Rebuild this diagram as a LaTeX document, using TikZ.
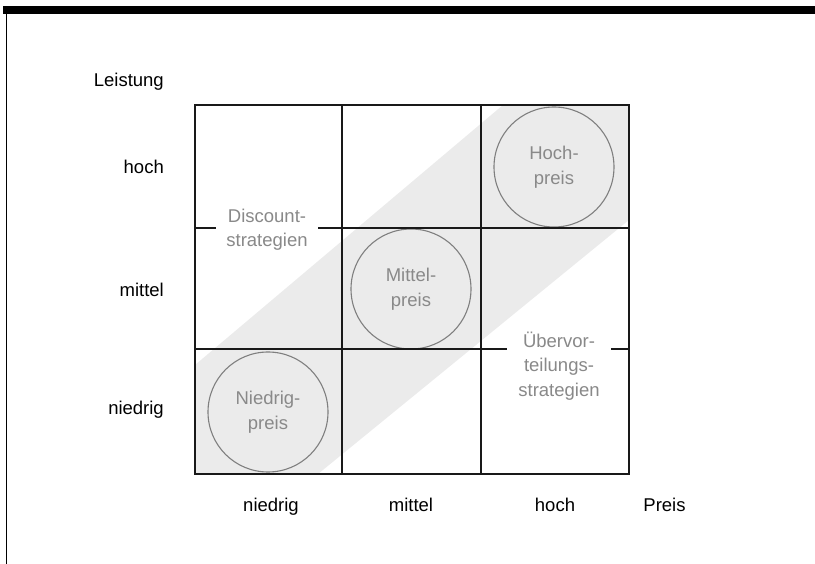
\documentclass[tikz,border=0pt]{standalone}
\usepackage{fontspec}
\setmainfont{Liberation Sans}
\definecolor{bandgray}{HTML}{EBEBEB}
\definecolor{ringgray}{HTML}{7F7F7F}
\definecolor{textgray}{HTML}{898989}
\begin{document}
\begin{tikzpicture}[x=1pt,y=-1pt,
  txt/.style={font=\fontsize{18.5}{24.5}\selectfont, inner sep=0pt},
  axis/.style={txt, text=black},
  cell/.style={line width=1.1pt, draw=black!90},
  price/.style={txt, circle, draw=ringgray, line width=1.1pt, fill=bandgray,
    minimum size=120pt, align=center, text=textgray},
  strat/.style={txt, fill=white, align=center, text=textgray, inner ysep=2pt}]
\useasboundingbox (0,0) rectangle (815,564);

% frame: heavy top rule and thin left rule
\fill[black] (3,6.5) rectangle (815,14.5);
\draw[line width=1.6pt] (6.5,14) -- (6.5,564);

% diagonal band of consistent price/performance strategies
\fill[bandgray] (195,365) -- (503,105) -- (629,105) -- (629,220)
  -- (318,474) -- (195,474) -- cycle;

% price positions
\node[price] (low)  at (268,412) {Niedrig-\\preis};
\node[price] (mid)  at (411,289) {Mittel-\\preis};
\node[price] (high) at (554,167) {Hoch-\\preis};

% 3x3 matrix
\coordinate (tl) at (195,105);
\coordinate (br) at (629,474);
\draw[cell] (tl) rectangle (br);
\draw[cell] (342,105) -- (342,474);
\draw[cell] (481,105) -- (481,474);
\draw[cell] (195,228) -- (629,228);
\draw[cell] (195,349) -- (629,349);

% off-diagonal strategy labels
\node[strat, minimum width=102pt] (disc) at (267,229.5) {Discount-\\strategien};
\node[strat, minimum width=104pt] (over) at (559,366) {Übervor-\\teilungs-\\strategien};

% axis labels
\node[axis, anchor=base east] (perf) at (164,87)  {Leistung};
\node[axis, anchor=base east] (phi)  at (164,174) {hoch};
\node[axis, anchor=base east] (pmid) at (164,297) {mittel};
\node[axis, anchor=base east] (plo)  at (164,414) {niedrig};

\node[axis, anchor=base] (xlo)  at (271,511) {niedrig};
\node[axis, anchor=base] (xmid) at (411,511) {mittel};
\node[axis, anchor=base] (xhi)  at (555,511) {hoch};
\node[axis, anchor=base] (price) at (664.5,511) {Preis};
\end{tikzpicture}
\end{document}
